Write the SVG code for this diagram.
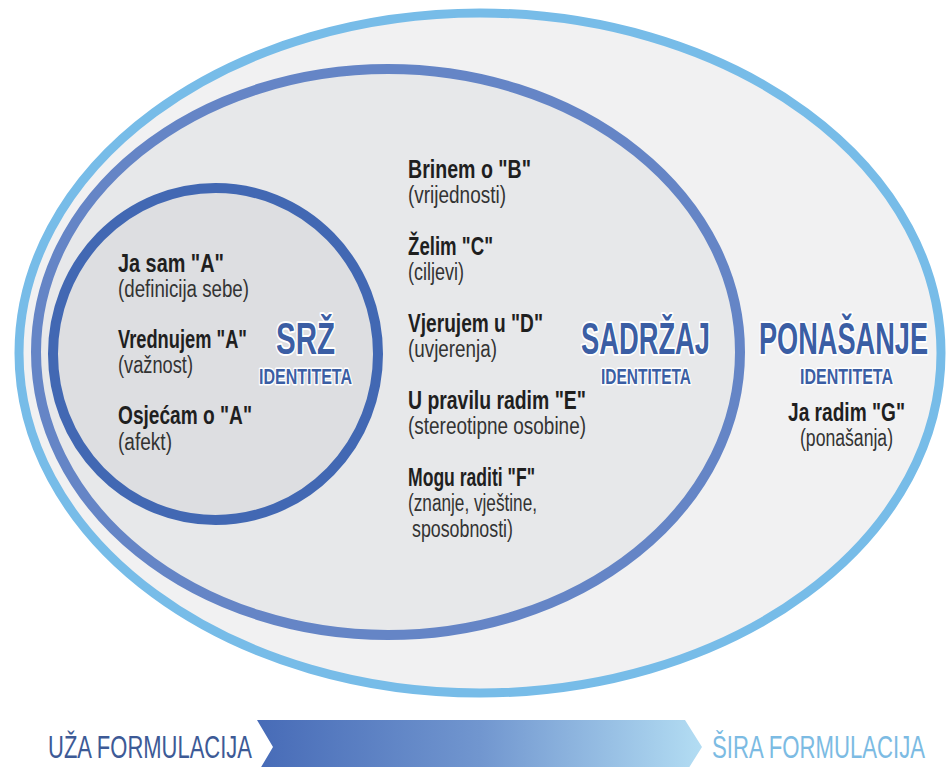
<svg xmlns="http://www.w3.org/2000/svg" width="949" height="767" viewBox="0 0 949 767">
<defs>
<linearGradient id="arrowGrad" x1="0" y1="0" x2="1" y2="0">
<stop offset="0" stop-color="#476bb7"/>
<stop offset="0.5" stop-color="#7196cf"/>
<stop offset="1" stop-color="#b3ddf3"/>
</linearGradient>
<style>
text{font-family:"Liberation Sans",Arial,sans-serif}
.b{font-weight:bold;font-size:25px;fill:#1f1f1f}
.r{font-size:23px;fill:#333}
.h{font-weight:bold;font-size:45px;fill:#3b5ea4;stroke:#fff;stroke-width:4;paint-order:stroke;stroke-linejoin:round}
.s{font-weight:bold;font-size:22px;fill:#3b5ea4;stroke:#fff;stroke-width:3;paint-order:stroke;stroke-linejoin:round}
.f{font-size:31px}
</style>
</defs>
<rect width="949" height="767" fill="#fff"/>
<g id="ponasanje">
<ellipse cx="480" cy="353" rx="461" ry="340" fill="#f1f1f2" stroke="#77bce8" stroke-width="9"/>
<text class="h" x="759" y="354" textLength="169" lengthAdjust="spacingAndGlyphs">PONAŠANJE</text>
<text class="s" x="800" y="384" textLength="93" lengthAdjust="spacingAndGlyphs">IDENTITETA</text>
<text class="b" x="788" y="421" textLength="117" lengthAdjust="spacingAndGlyphs">Ja radim "G"</text>
<text class="r" x="800" y="446" textLength="93" lengthAdjust="spacingAndGlyphs">(ponašanja)</text>
</g>
<g id="sadrzaj">
<ellipse cx="388" cy="352" rx="352" ry="283" fill="#e7e8ea" stroke="#6585c6" stroke-width="10"/>
<text class="h" x="581" y="354" textLength="129" lengthAdjust="spacingAndGlyphs">SADRŽAJ</text>
<text class="s" x="601" y="384" textLength="90" lengthAdjust="spacingAndGlyphs">IDENTITETA</text>
<text class="b" x="408" y="178" textLength="123" lengthAdjust="spacingAndGlyphs">Brinem o "B"</text>
<text class="r" x="408" y="203" textLength="98" lengthAdjust="spacingAndGlyphs">(vrijednosti)</text>
<text class="b" x="408" y="255" textLength="85" lengthAdjust="spacingAndGlyphs">Želim "C"</text>
<text class="r" x="408" y="280" textLength="56" lengthAdjust="spacingAndGlyphs">(ciljevi)</text>
<text class="b" x="408" y="332" textLength="135" lengthAdjust="spacingAndGlyphs">Vjerujem u "D"</text>
<text class="r" x="408" y="357" textLength="89" lengthAdjust="spacingAndGlyphs">(uvjerenja)</text>
<text class="b" x="408" y="409" textLength="178" lengthAdjust="spacingAndGlyphs">U pravilu radim "E"</text>
<text class="r" x="408" y="434" textLength="178" lengthAdjust="spacingAndGlyphs">(stereotipne osobine)</text>
<text class="b" x="408" y="486" textLength="127" lengthAdjust="spacingAndGlyphs">Mogu raditi "F"</text>
<text class="r" x="408" y="511" textLength="129" lengthAdjust="spacingAndGlyphs">(znanje, vještine,</text>
<text class="r" x="412" y="537" textLength="101" lengthAdjust="spacingAndGlyphs">sposobnosti)</text>
</g>
<g id="srz">
<ellipse cx="215.5" cy="354" rx="162.5" ry="166" fill="#dddee1" stroke="#4268b3" stroke-width="10"/>
<text class="h" x="276" y="354" textLength="59" lengthAdjust="spacingAndGlyphs">SRŽ</text>
<text class="s" x="259" y="384" textLength="93" lengthAdjust="spacingAndGlyphs">IDENTITETA</text>
<text class="b" x="118" y="272" textLength="106" lengthAdjust="spacingAndGlyphs">Ja sam "A"</text>
<text class="r" x="118" y="297" textLength="131" lengthAdjust="spacingAndGlyphs">(definicija sebe)</text>
<text class="b" x="118" y="348" textLength="129" lengthAdjust="spacingAndGlyphs">Vrednujem "A"</text>
<text class="r" x="118" y="373" textLength="75" lengthAdjust="spacingAndGlyphs">(važnost)</text>
<text class="b" x="118" y="424" textLength="134" lengthAdjust="spacingAndGlyphs">Osjećam o "A"</text>
<text class="r" x="118" y="450" textLength="54" lengthAdjust="spacingAndGlyphs">(afekt)</text>
</g>
<g id="connectors">
<polygon points="257,720 685,720 702,747 685,774 257,774 273,747" fill="url(#arrowGrad)"/>
</g>
<g id="scale-labels">
<text class="f" x="48" y="758" fill="#3d5a96" textLength="204" lengthAdjust="spacingAndGlyphs">UŽA FORMULACIJA</text>
<text class="f" x="712" y="758" fill="#7cbbe3" textLength="213" lengthAdjust="spacingAndGlyphs">ŠIRA FORMULACIJA</text>
</g>
</svg>
